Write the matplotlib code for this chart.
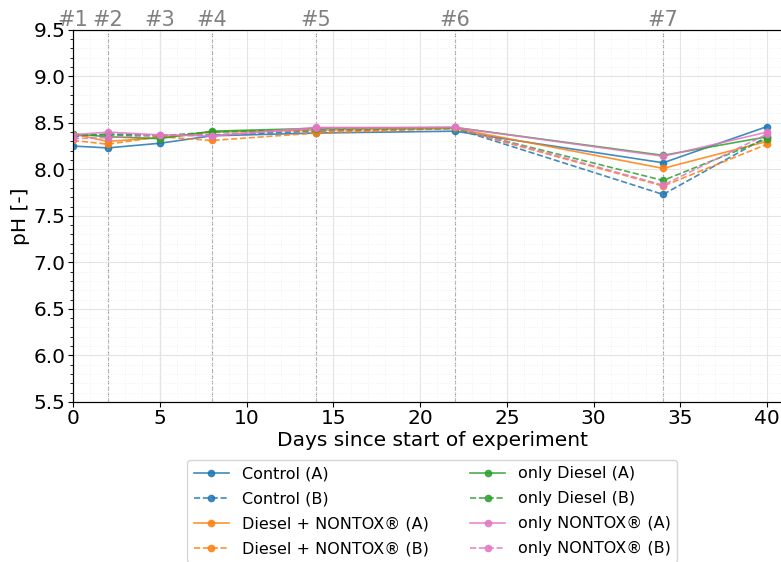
import matplotlib
matplotlib.use("Agg")
import matplotlib.pyplot as plt
from matplotlib.ticker import MultipleLocator

# sampling days and sample numbers
days = [0, 2, 5, 8, 14, 22, 34, 40]
sample_days = [0, 2, 5, 8, 14, 22, 34]
sample_labels = ['#1', '#2', '#3', '#4', '#5', '#6', '#7']

# pH readings per tank
control_a = [8.25, 8.23, 8.28, 8.36, 8.39, 8.41, 8.07, 8.46]
control_b = [8.35, 8.38, 8.36, 8.37, 8.41, 8.44, 7.73, 8.35]
diesel_nontox_a = [8.38, 8.30, 8.34, 8.40, 8.42, 8.44, 8.01, 8.30]
diesel_nontox_b = [8.31, 8.27, 8.35, 8.31, 8.39, 8.44, 7.82, 8.27]
only_diesel_a = [8.38, 8.35, 8.33, 8.41, 8.44, 8.45, 8.15, 8.35]
only_diesel_b = [8.37, 8.37, 8.36, 8.40, 8.43, 8.44, 7.88, 8.33]
only_nontox_a = [8.37, 8.40, 8.37, 8.36, 8.45, 8.45, 8.14, 8.40]
only_nontox_b = [8.33, 8.34, 8.37, 8.36, 8.44, 8.45, 7.83, 8.38]

series = [
    ('Control (A)', control_a, '#1f77b4', '-'),
    ('Control (B)', control_b, '#1f77b4', '--'),
    ('Diesel + NONTOX® (A)', diesel_nontox_a, '#ff7f0e', '-'),
    ('Diesel + NONTOX® (B)', diesel_nontox_b, '#ff7f0e', '--'),
    ('only Diesel (A)', only_diesel_a, '#2ca02c', '-'),
    ('only Diesel (B)', only_diesel_b, '#2ca02c', '--'),
    ('only NONTOX® (A)', only_nontox_a, '#e377c2', '-'),
    ('only NONTOX® (B)', only_nontox_b, '#e377c2', '--'),
]

fig = plt.figure(figsize=(7.81, 5.62), dpi=100)
ax = fig.add_axes([0.0935, 0.285, 0.92, 0.662])

for d in sample_days[1:]:
    ax.axvline(d, color='gray', ls='--', lw=0.8, alpha=0.8, zorder=1)

for name, vals, col, ls in series:
    ax.plot(days, vals, ls=ls, color=col, marker='o', ms=4.5, lw=1.2,
            alpha=0.85, label=name, zorder=3)

ax.set_xlim(0, 41.4)
ax.set_ylim(5.5, 9.5)
ax.xaxis.set_major_locator(MultipleLocator(5))
ax.xaxis.set_minor_locator(MultipleLocator(1))
ax.yaxis.set_major_locator(MultipleLocator(0.5))
ax.yaxis.set_minor_locator(MultipleLocator(0.1))
ax.tick_params(axis='both', which='major', labelsize=14.5, pad=2)
ax.tick_params(axis='x', which='minor', length=0)
ax.grid(which='major', color='#e4e4e4', lw=0.8)
ax.grid(which='minor', color='#efefef', lw=0.6, ls=':')
ax.spines['right'].set_visible(False)

ax.set_xlabel('Days since start of experiment', fontsize=14.5, labelpad=2)
ax.set_ylabel('pH [-]', fontsize=14.5, labelpad=2)

top = ax.twiny()
top.set_xlim(ax.get_xlim())
top.set_xticks(sample_days)
top.set_xticklabels(sample_labels, color='gray', fontsize=15)
top.tick_params(axis='x', length=0, pad=0)
top.spines['right'].set_visible(False)

ax.legend(loc='upper center', bbox_to_anchor=(0.5, -0.135), ncol=2,
          fontsize=11.5, numpoints=1, handlelength=2.2, columnspacing=2.6,
          labelspacing=0.62)

fig.savefig('out.png', dpi=100)
